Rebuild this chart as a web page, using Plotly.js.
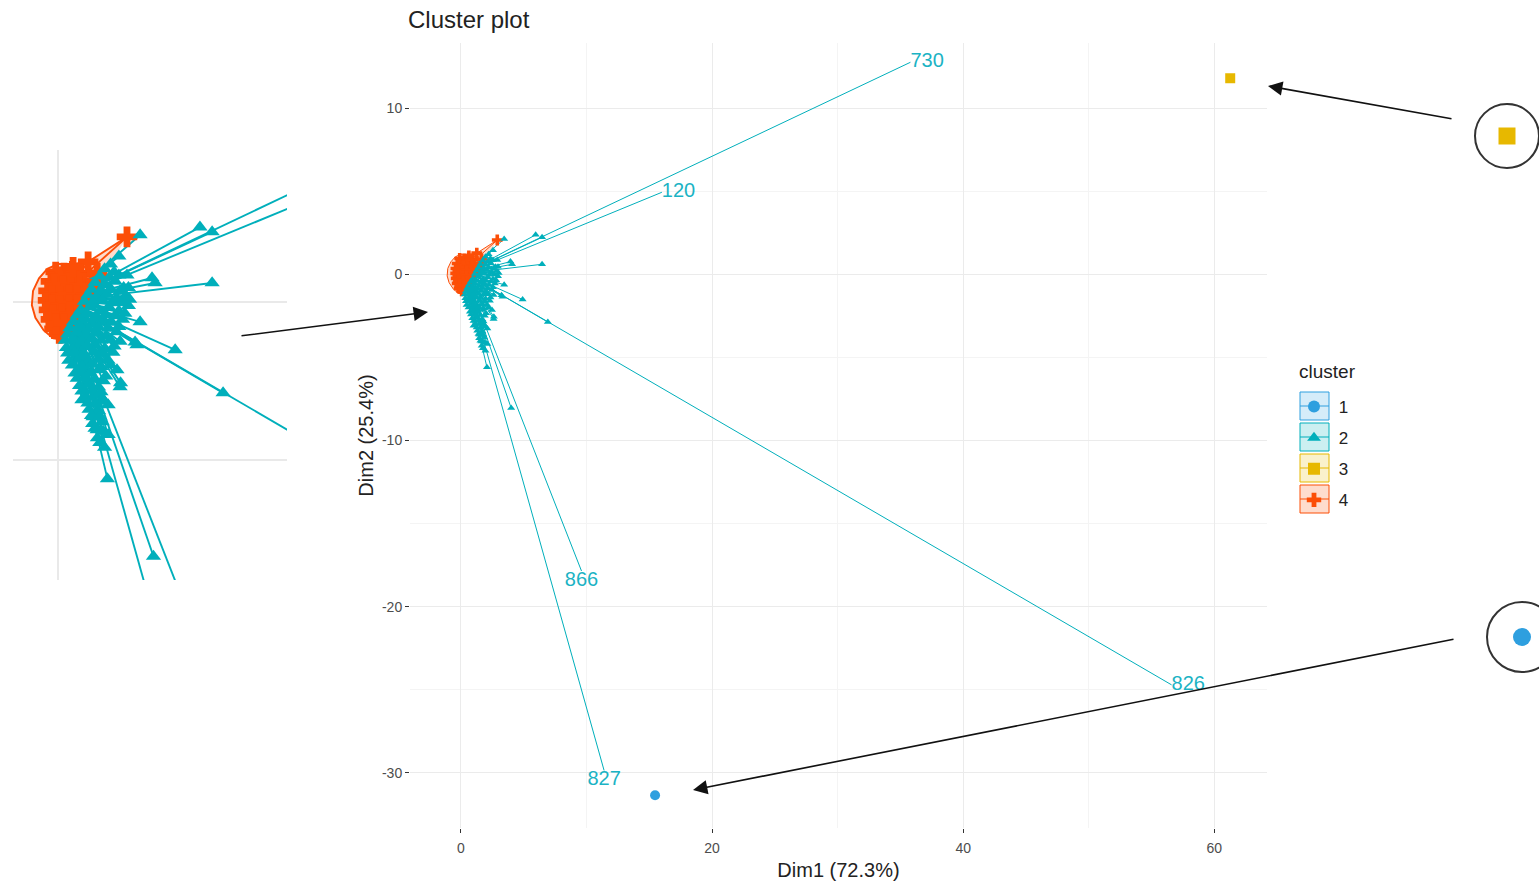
<!DOCTYPE html>
<html><head><meta charset="utf-8">
<script src="https://cdn.plot.ly/plotly-3.0.1.min.js"></script>
<style>html,body{margin:0;padding:0;background:#fff}#chart{width:1539px;height:886px}</style>
</head><body><div id="chart"></div>
<script>
const W = 1539, H = 886;

// ---- data ----
const clusterNames = ['1', '2', '3', '4'];
const clusterColors = ['#2E9FDF', '#00AFBB', '#E7B800', '#FC4E07'];
const clusterFills = ['rgba(46,159,223,0.2)', 'rgba(0,175,187,0.2)', 'rgba(231,184,0,0.2)', 'rgba(252,78,7,0.2)'];
const clusterSymbols = ['circle', 'triangle-up', 'square', 'cross'];

// cluster 1 and 3: single observations
const clus1X = [15.46];
const clus1Y = [-31.34];
const clus3X = [61.27];
const clus3Y = [11.79];

// cluster centres
const cent2 = [0.3, 0.05];
const cent4 = [0.3, 0.3];

// cluster 2 labelled observations
const lab2Names = ['730', '120', '866', '827', '826'];
const lab2X = [35.8, 16.0, 9.6, 11.4, 56.6];
const lab2Y = [12.75, 4.93, -17.85, -29.85, -24.7];
const lab2Pos = ['middle right', 'middle right', 'bottom center', 'bottom center', 'middle right'];

// cluster 2 other observations
const clus2X = [5.95, 6.46, 3.44, 2.89, 3.94, 4.07, 6.46, 3.44, 3.23, 4.91, 6.92, 2.62, 2.47, 3.31, 2.07, 4.0, 2.1, 1.64, 1.47, 1.0, 2.1, 2.6, 0.71, 2.55, 2.2,
  1.95, 2.35, 1.55, 1.95, 2.4, 2.75, 1.25, 1.6, 2.05, 2.45, 2.85, 0.95, 1.35, 1.75, 2.15, 2.55, 2.95,
  0.65, 1.05, 1.45, 1.85, 2.25, 2.7, 0.4, 0.8, 1.2, 1.6, 2.0, 2.45, 0.35, 0.75, 1.15, 1.55, 1.95, 2.35,
  0.45, 0.9, 1.3, 1.7, 2.1, 0.95, 1.35, 1.75, 2.0, 0.9, 1.3, 1.7, 1.15, 1.55, 1.85, 1.3, 1.7, 1.45, 1.85, 1.75, 1.95,
  1.75, 2.15, 2.55, 1.4, 1.8, 2.2, 2.6, 2.95, 1.1, 1.45, 1.85, 2.25, 2.65, 3.0,
  0.8, 1.2, 1.6, 2.0, 2.4, 2.8, 0.5, 0.9, 1.3, 1.7, 2.1, 2.55, 0.3, 0.6, 1.0, 1.4, 1.8, 2.2, 2.6,
  0.4, 0.7, 1.1, 1.5, 1.9, 2.3, 0.6, 1.0, 1.4, 1.8, 2.2, 0.8, 1.15, 1.55, 1.9, 1.0, 1.45, 1.8,
  1.25, 1.6, 1.95, 1.4, 1.75, 1.55, 1.9, 1.65];
const clus2Y = [2.37, 2.22, 2.12, 0.85, 0.76, 0.6, 0.6, -0.63, -1.27, -1.52, -2.88, -2.56, -2.15, -1.36, -5.6, -8.05, -4.2, -4.05, -3.64, -3.1, -3.26, -2.69, -2.25, 1.45, 1.2,
  1.05, 0.95, 0.62, 0.55, 0.65, 0.45, 0.22, 0.15, 0.25, 0.12, 0.2, -0.25, -0.15, -0.3, -0.18, -0.28, -0.12,
  -0.62, -0.55, -0.68, -0.58, -0.65, -0.55, -1.02, -0.95, -1.05, -0.98, -1.08, -0.95, -1.45, -1.38, -1.42, -1.35, -1.48, -1.4,
  -1.85, -1.78, -1.88, -1.8, -1.85, -2.2, -2.25, -2.15, -2.35, -2.65, -2.6, -2.7, -3.0, -2.95, -3.05, -3.4, -3.45, -3.85, -3.8, -4.45, -4.6,
  0.82, 0.78, 0.85, 0.4, 0.38, 0.42, 0.35, 0.45, 0.02, -0.02, 0.05, -0.03, 0.0, 0.08,
  -0.42, -0.38, -0.45, -0.4, -0.44, -0.36, -0.82, -0.78, -0.85, -0.8, -0.84, -0.78, -1.22, -1.2, -1.25, -1.18, -1.22, -1.2, -1.25,
  -1.62, -1.6, -1.65, -1.58, -1.62, -1.6, -2.0, -2.02, -1.98, -2.05, -2.0, -2.42, -2.4, -2.45, -2.5, -2.82, -2.8, -2.85,
  -3.2, -3.22, -3.15, -3.6, -3.62, -4.0, -4.1, -4.3];

// cluster 4 observations
const clus4X = [-0.1, 0.25, 0.6, 0.95, -0.3, 0.05, 0.4, 0.75, 1.1, -0.4, -0.05, 0.3, 0.65, 1.0, 1.3,
  -0.42, -0.1, 0.25, 0.6, 0.95, -0.38, -0.05, 0.3, 0.65, -0.3, 0.05, 0.4, -0.15, 0.2, 0.05,
  0.1, 0.45, 0.8, -0.15, 0.2, 0.55, 0.9, -0.25, 0.1, 0.45, 0.8, 1.15, -0.25, 0.1, 0.45, 0.8, -0.2, 0.15, 0.5, -0.1, 0.25,
  1.26, 1.64, 0.63, 2.89];
const clus4Y = [0.95, 0.92, 0.97, 0.9, 0.65, 0.62, 0.68, 0.63, 0.6, 0.35, 0.38, 0.32, 0.36, 0.33, 0.4,
  0.05, 0.02, 0.08, 0.03, 0.06, -0.25, -0.22, -0.28, -0.24, -0.55, -0.52, -0.58, -0.85, -0.82, -1.0,
  0.8, 0.78, 0.82, 0.5, 0.52, 0.48, 0.5, 0.2, 0.18, 0.22, 0.2, 0.18, -0.1, -0.12, -0.08, -0.1, -0.4, -0.38, -0.42, -0.7, -0.68,
  1.27, 0.92, 1.1, 2.06];

// cluster 4 frame outline
const frame4X = [2.89, 1.26, 0.6, 0.0, -0.45, -0.8, -1.05, -1.1, -0.95, -0.6, -0.2, 0.3];
const frame4Y = [2.06, 1.27, 1.2, 1.2, 1.05, 0.75, 0.35, -0.1, -0.5, -0.9, -1.15, -1.2];

const xTickVals = [0, 20, 40, 60];
const xTickText = ['0', '20', '40', '60'];
const yTickVals = [-30, -20, -10, 0, 10];
const yTickText = ['-30', '-20', '-10', '0', '10'];

// ---- build traces ----
function star(px, py, c) {
  const x = [], y = [];
  for (let i = 0; i < px.length; i++) {
    x.push(c[0], px[i], null);
    y.push(c[1], py[i], null);
  }
  return {x, y};
}
const nb = '\u00a0';

function clusterTraces(xa, ya, k, legend) {
  const tr = [];
  tr.push({type: 'scatter', mode: 'lines', x: frame4X, y: frame4Y, xaxis: xa, yaxis: ya,
    fill: 'toself', fillcolor: clusterFills[3], line: {color: clusterColors[3], width: 1 * k},
    showlegend: false, hoverinfo: 'skip'});
  const s2 = star(clus2X.concat(lab2X), clus2Y.concat(lab2Y), cent2);
  tr.push({type: 'scatter', mode: 'lines', x: s2.x, y: s2.y, xaxis: xa, yaxis: ya, showlegend: false,
    line: {color: clusterColors[1], width: 1 * k}});
  const s4 = star(clus4X, clus4Y, cent4);
  tr.push({type: 'scatter', mode: 'lines', x: s4.x, y: s4.y, xaxis: xa, yaxis: ya, showlegend: false,
    line: {color: clusterColors[3], width: 1 * k}});
  tr.push({type: 'scatter', mode: 'markers', x: clus4X, y: clus4Y, xaxis: xa, yaxis: ya,
    name: nb + clusterNames[3], legendgroup: 'g4', legendrank: 4, showlegend: legend,
    marker: {symbol: clusterSymbols[3], color: clusterColors[3], size: 9 * k, line: {width: 0}}});
  tr.push({type: 'scatter', mode: 'markers', x: clus2X, y: clus2Y, xaxis: xa, yaxis: ya,
    name: nb + clusterNames[1], legendgroup: 'g2', legendrank: 2, showlegend: legend,
    marker: {symbol: clusterSymbols[1], color: clusterColors[1], size: 7 * k, line: {width: 0}}});
  tr.push({type: 'scatter', mode: 'markers', x: clus1X, y: clus1Y, xaxis: xa, yaxis: ya,
    name: nb + clusterNames[0], legendgroup: 'g1', legendrank: 1, showlegend: legend,
    marker: {symbol: clusterSymbols[0], color: clusterColors[0], size: 10 * k}});
  tr.push({type: 'scatter', mode: 'markers', x: clus3X, y: clus3Y, xaxis: xa, yaxis: ya,
    name: nb + clusterNames[2], legendgroup: 'g3', legendrank: 3, showlegend: legend,
    marker: {symbol: clusterSymbols[2], color: clusterColors[2], size: 10 * k}});
  return tr;
}

const font = 'Liberation Sans, Arial, sans-serif';
const traces = [];
traces.push(...clusterTraces('x', 'y', 1, true));
traces.push({type: 'scatter', mode: 'text', x: lab2X, y: lab2Y, text: lab2Names, textposition: lab2Pos,
  textfont: {family: font, size: 20, color: '#1BB3C4'},
  showlegend: false, hoverinfo: 'skip', cliponaxis: false});
traces.push(...clusterTraces('x2', 'y2', 1.9, false));
traces.push({type: 'scatter', mode: 'markers', x: clus3X, y: clus3Y, xaxis: 'x3', yaxis: 'y3',
  marker: {symbol: clusterSymbols[2], color: clusterColors[2], size: 17}, showlegend: false, cliponaxis: false});
traces.push({type: 'scatter', mode: 'markers', x: clus1X, y: clus1Y, xaxis: 'x4', yaxis: 'y4',
  marker: {symbol: clusterSymbols[0], color: clusterColors[0], size: 18}, showlegend: false, cliponaxis: false});

const px = p => p / W, py = p => 1 - p / H;
const gridMaj = '#ebebeb', gridMin = '#f4f4f4';

const hiddenAxis = (dom, rng, anchor) => ({domain: dom, range: rng, anchor: anchor, visible: false, fixedrange: true});

const keyCenters = [406, 437, 468, 499];
const shapes = [];
keyCenters.forEach((c, i) => {
  shapes.push({type: 'rect', xref: 'paper', yref: 'paper', x0: px(1300), x1: px(1329), y0: py(c + 14), y1: py(c - 14),
    fillcolor: clusterFills[i], line: {color: clusterColors[i], width: 1}, layer: 'below'});
  shapes.push({type: 'line', xref: 'paper', yref: 'paper', x0: px(1300), x1: px(1329), y0: py(c), y1: py(c),
    line: {color: clusterColors[i], width: 1}, layer: 'below'});
});
shapes.push({type: 'circle', xref: 'paper', yref: 'paper', x0: px(1475), x1: px(1539), y0: py(168), y1: py(104),
  line: {color: '#333', width: 2}, fillcolor: '#fff', layer: 'below'});
shapes.push({type: 'circle', xref: 'paper', yref: 'paper', x0: px(1487), x1: px(1557), y0: py(672), y1: py(602),
  line: {color: '#333', width: 2}, fillcolor: '#fff', layer: 'below'});

function arrow(hx, hy, tx, ty) {
  return {xref: 'paper', yref: 'paper', x: px(hx), y: py(hy), ax: tx - hx, ay: ty - hy, text: '',
    showarrow: true, arrowhead: 2, arrowsize: 1.8, arrowwidth: 1.6, arrowcolor: '#111', standoff: 0};
}

const layout = {
  width: W, height: H, margin: {l: 0, r: 0, t: 0, b: 0},
  paper_bgcolor: '#fff', plot_bgcolor: 'rgba(0,0,0,0)',
  font: {family: font, color: '#222'},
  title: {text: 'Cluster plot', x: px(408), xanchor: 'left', xref: 'paper', y: py(20), yanchor: 'middle', yref: 'paper',
    font: {family: font, size: 24, color: '#222'}},
  xaxis: {domain: [px(410), px(1267)], range: [-4.06, 64.2], anchor: 'y',
    tickmode: 'array', tickvals: xTickVals, ticktext: xTickText, ticks: 'outside', ticklen: 4, tickcolor: '#333', tickwidth: 1,
    tickfont: {size: 14, color: '#4d4d4d'}, ticklabelstandoff: 3, showgrid: true, gridcolor: gridMaj, gridwidth: 1,
    minor: {dtick: 10, tick0: 0, showgrid: true, gridcolor: gridMin, gridwidth: 1, ticks: ''},
    zeroline: false, showline: false,
    title: {text: 'Dim1 (72.3%)', font: {size: 20, color: '#222'}, standoff: 8}},
  yaxis: {domain: [py(828), py(43)], range: [-33.31, 13.91], anchor: 'x',
    tickmode: 'array', tickvals: yTickVals, ticktext: yTickText, ticks: 'outside', ticklen: 4, tickcolor: '#333', tickwidth: 1,
    tickfont: {size: 14, color: '#4d4d4d'}, showgrid: true, gridcolor: gridMaj, gridwidth: 1,
    minor: {dtick: 5, tick0: 0, showgrid: true, gridcolor: gridMin, gridwidth: 1, ticks: ''},
    zeroline: false, showline: false,
    title: {text: 'Dim2 (25.4%)', font: {size: 20, color: '#222'}, standoff: 2}},
  xaxis2: {domain: [px(13), px(287)], range: [-1.89, 9.6], anchor: 'y2', dtick: 10, tick0: 0,
    showticklabels: false, ticks: '', showgrid: true, gridcolor: '#e9e9e9', gridwidth: 2, zeroline: false, fixedrange: true},
  yaxis2: {domain: [py(580), py(150)], range: [-8.8, 4.81], anchor: 'x2', dtick: 5, tick0: 0,
    showticklabels: false, ticks: '', showgrid: true, gridcolor: '#e9e9e9', gridwidth: 2, zeroline: false, fixedrange: true},
  xaxis3: hiddenAxis([px(1487), px(1527)], [clus3X[0] - 1, clus3X[0] + 1], 'y3'),
  yaxis3: hiddenAxis([py(156), py(116)], [clus3Y[0] - 1, clus3Y[0] + 1], 'x3'),
  xaxis4: hiddenAxis([px(1512), px(1532)], [clus1X[0] - 1, clus1X[0] + 1], 'y4'),
  yaxis4: hiddenAxis([py(647), py(627)], [clus1Y[0] - 1, clus1Y[0] + 1], 'x4'),
  legend: {x: px(1294), y: py(389), xanchor: 'left', yanchor: 'top', bgcolor: 'rgba(0,0,0,0)',
    font: {size: 17, color: '#222'}, itemsizing: 'constant', tracegroupgap: 6, traceorder: 'grouped'},
  shapes: shapes,
  annotations: [
    {xref: 'paper', yref: 'paper', x: px(1297), y: py(371), xanchor: 'left', yanchor: 'middle', text: 'cluster',
      showarrow: false, font: {size: 19, color: '#222'}},
    arrow(428, 312, 240, 336), arrow(1268, 86, 1453, 119), arrow(693, 790, 1455, 639)],
  showlegend: true, hovermode: false
};

Plotly.newPlot('chart', traces, layout, {displayModeBar: false, staticPlot: true});
</script>
</body></html>
